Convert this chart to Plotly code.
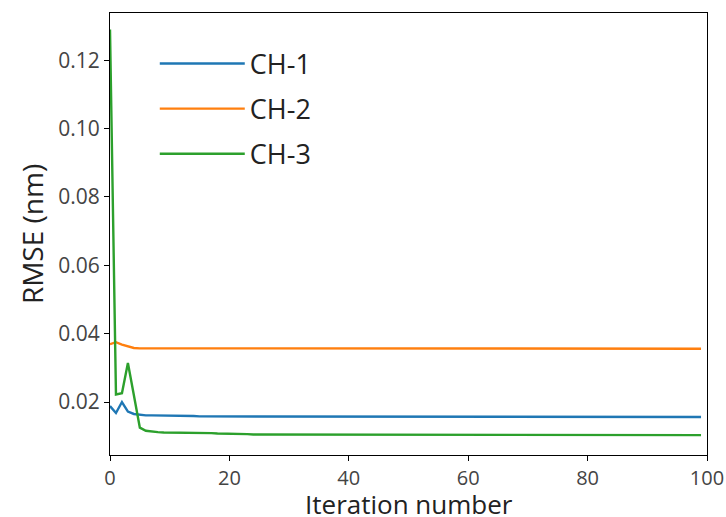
import plotly.graph_objects as go

iterations = list(range(100))

# CH-1 (blue)
ch1_head = [0.0188, 0.0168, 0.0200, 0.0172, 0.0165, 0.0162, 0.0161, 0.0161, 0.0161, 0.0160,
            0.0160, 0.0160, 0.0160, 0.0159, 0.0159, 0.0158, 0.0158, 0.0157, 0.0157, 0.0156]
ch1_tail_value = 0.0156
# CH-2 (orange)
ch2_head = [0.0369, 0.0375, 0.0368, 0.0362, 0.0358, 0.0357, 0.0357, 0.0357, 0.0356, 0.0356]
ch2_tail_value = 0.0356
# CH-3 (green)
ch3_head = [0.1290, 0.0222, 0.0226, 0.0314, 0.0220, 0.0125, 0.0116, 0.0113, 0.0112, 0.0111,
            0.0111, 0.0111, 0.0110, 0.0110, 0.0110, 0.0109, 0.0109, 0.0109, 0.0108, 0.0108,
            0.0107, 0.0107, 0.0106, 0.0106, 0.0105, 0.0105, 0.0104, 0.0104, 0.0103, 0.0103]
ch3_tail_value = 0.0103

ch1 = ch1_head + [ch1_tail_value] * (100 - len(ch1_head))
ch2 = ch2_head + [ch2_tail_value] * (100 - len(ch2_head))
ch3 = ch3_head + [ch3_tail_value] * (100 - len(ch3_head))

series_names = ["CH-1", "CH-2", "CH-3"]
series_values = [ch1, ch2, ch3]
colors = ["#1f77b4", "#ff7f0e", "#2ca02c"]

x_ticks = [0, 20, 40, 60, 80, 100]
y_ticks = [0.02, 0.04, 0.06, 0.08, 0.10, 0.12]
x_title = "Iteration number"
y_title = "RMSE (nm)"

fig = go.Figure()
for name, vals, c in zip(series_names, series_values, colors):
    fig.add_trace(go.Scatter(x=iterations, y=vals, mode="lines", name=name, legendgroup=name,
                             line=dict(color=c, width=2.4)))

font_family = "Open Sans"
fig.update_layout(
    width=726, height=517,
    margin=dict(l=110, r=19, t=13, b=62),
    paper_bgcolor="white", plot_bgcolor="white",
    font=dict(family=font_family, color="#333333"),
    showlegend=True,
    legend=dict(x=0.075, y=0.94, xanchor="left", yanchor="top",
                bgcolor="rgba(0,0,0,0)", borderwidth=0,
                font=dict(size=27, color="#222222", family=font_family),
                tracegroupgap=7, itemwidth=85),
)
fig.add_annotation(text=x_title, xref="paper", yref="paper", x=0.5, y=0,
                   xanchor="center", yanchor="top", yshift=-29, showarrow=False,
                   font=dict(size=26, color="#222222", family=font_family))
fig.update_xaxes(range=[0, 100], tickvals=x_ticks, ticktext=[str(v) for v in x_ticks],
                 showgrid=False, zeroline=False, showline=True, linecolor="black", linewidth=1.2,
                 mirror=True, ticks="outside", ticklen=5, tickcolor="black", automargin=False,
                 tickfont=dict(size=20, color="#444444"))
fig.update_yaxes(range=[0.0045, 0.1338], tickvals=y_ticks, ticktext=[f"{v:.2f}" for v in y_ticks],
                 showgrid=False, zeroline=False, showline=True, linecolor="black", linewidth=1.2,
                 mirror=True, ticks="outside", ticklen=5, tickcolor="black", automargin=False,
                 tickfont=dict(size=21, color="#444444"),
                 title=dict(text=y_title, font=dict(size=28, color="#222222"), standoff=6))

fig.write_html("out.html", config={"displayModeBar": False},
               post_script="document.body.style.margin='0';document.body.style.overflow='hidden';")
